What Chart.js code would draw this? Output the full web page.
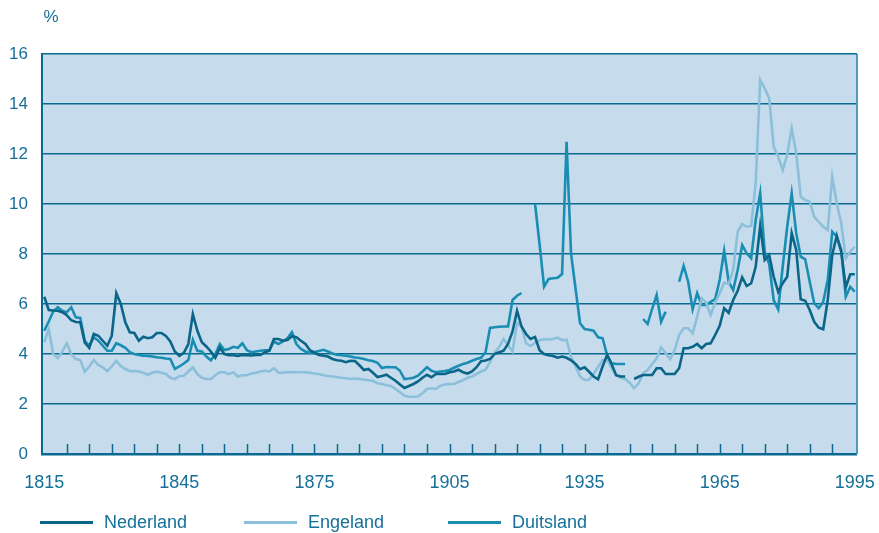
<!DOCTYPE html>
<html>
<head>
<meta charset="utf-8">
<script src="https://cdn.jsdelivr.net/npm/chart.js@4.4.1/dist/chart.umd.min.js"></script>
<style>
  html, body { margin: 0; padding: 0; background: #fff; }
  #wrap { position: relative; width: 879px; height: 533px; }
  #legend { position: absolute; left: 40px; top: 511px; display: flex; font: 18px "Liberation Sans", Arial, sans-serif; color: #16709a; }
  .item { width: 204px; display: flex; align-items: center; height: 22px; }
  .swatch { width: 53px; height: 3px; margin-right: 11px; }
</style>
</head>
<body>
<div id="wrap">
  <canvas id="rateChart" width="879" height="533"></canvas>
  <div id="legend"></div>
</div>
<script>
// jaren 1815 - 1995
const years = Array.from({ length: 181 }, (_, i) => 1815 + i)
const labelYears = [1815, 1845, 1875, 1905, 1935, 1965, 1995]

const nederland = [
  6.29, 5.76, 5.74, 5.73, 5.67, 5.55, 5.35, 5.28, 5.27, 4.45,
  4.24, 4.8, 4.73, 4.53, 4.33, 4.73, 6.43, 6.0, 5.27, 4.87,
  4.84, 4.53, 4.69, 4.63, 4.67, 4.84, 4.84, 4.72, 4.5, 4.1,
  3.93, 4.05, 4.4, 5.6, 4.93, 4.47, 4.3, 4.1, 3.85, 4.25,
  4.0, 3.95, 3.95, 3.92, 3.96, 3.95, 3.94, 3.96, 3.96, 4.07,
  4.13, 4.6, 4.6, 4.53, 4.56, 4.71, 4.67, 4.53, 4.4, 4.15,
  4.05, 3.96, 3.93, 3.9, 3.8, 3.75, 3.73, 3.67, 3.73, 3.72,
  3.55, 3.36, 3.4, 3.25, 3.08, 3.12, 3.17, 3.05, 2.93, 2.78,
  2.64, 2.72, 2.8, 2.9, 3.05, 3.17, 3.07, 3.2, 3.2, 3.2,
  3.27, 3.3, 3.37, 3.27, 3.22, 3.3, 3.47, 3.71, 3.74, 3.8,
  4.0, 4.07, 4.13, 4.4, 4.9, 5.73, 5.1, 4.8, 4.6, 4.68,
  4.15, 4.0, 3.95, 3.92, 3.85, 3.9, 3.85, 3.75, 3.6, 3.39,
  3.47, 3.29, 3.1, 2.99, 3.5, 3.96, 3.6, 3.15, 3.1, 3.1,
  null, 3.0, 3.09, 3.16, 3.16, 3.16, 3.43, 3.43, 3.2, 3.2,
  3.2, 3.43, 4.23, 4.23, 4.29, 4.4, 4.23, 4.4, 4.43, 4.76,
  5.13, 5.83, 5.65, 6.16, 6.53, 7.07, 6.72, 6.83, 7.49, 9.13,
  7.76, 7.96, 7.09, 6.49, 6.83, 7.09, 8.83, 8.16, 6.19, 6.13,
  5.76, 5.29, 5.05, 4.99, 6.16, 7.96, 8.73, 8.09, 6.67, 7.19,
  7.19
]

const engeland = [
  4.47, 5.0, 4.0, 3.84, 4.1, 4.43, 4.0, 3.8, 3.76, 3.29,
  3.5, 3.76, 3.56, 3.47, 3.31, 3.5, 3.73, 3.52, 3.4, 3.31,
  3.32, 3.3, 3.25, 3.17, 3.25, 3.3, 3.25, 3.2, 3.05, 3.0,
  3.12, 3.13, 3.3, 3.47, 3.2, 3.05, 3.0, 3.0, 3.15, 3.27,
  3.27, 3.2, 3.27, 3.1, 3.15, 3.15, 3.22, 3.25, 3.3, 3.33,
  3.3, 3.43, 3.25, 3.25, 3.28, 3.27, 3.27, 3.27, 3.27, 3.25,
  3.22, 3.2, 3.15, 3.12, 3.1, 3.08, 3.05, 3.03, 3.0, 3.02,
  3.0, 2.98, 2.95, 2.92, 2.83, 2.8, 2.75, 2.72, 2.6, 2.47,
  2.33, 2.29, 2.29, 2.3, 2.43, 2.6, 2.63, 2.6, 2.73, 2.78,
  2.8, 2.8, 2.88, 2.95, 3.05, 3.1, 3.2, 3.3, 3.37, 3.67,
  4.05, 4.27, 4.6, 4.35, 4.1, 5.25, 5.09, 4.43, 4.32, 4.45,
  4.55, 4.6, 4.58, 4.6, 4.65, 4.55, 4.57, 3.89, 3.5, 3.1,
  2.96, 2.97, 3.2, 3.49, 3.76, 3.76, 3.43, 3.15, 3.05, 3.0,
  2.85, 2.63, 2.83, 3.23, 3.36, 3.6, 3.83, 4.27, 4.03, 3.79,
  4.16, 4.76, 5.03, 5.03, 4.83, 5.49, 6.23, 6.05, 5.56, 6.05,
  6.43, 6.85, 6.8, 7.36, 8.89, 9.2, 9.09, 9.12, 10.83, 14.96,
  14.63, 14.23, 12.29, 11.89, 11.36, 11.96, 13.03, 12.03, 10.29, 10.16,
  10.09, 9.49, 9.29, 9.09, 8.96, 11.09, 10.03, 9.23, 7.83, 8.09,
  8.29
]

const duitsland = [
  4.93, 5.3, 5.7, 5.87, 5.73, 5.67, 5.87, 5.47, 5.44, 4.53,
  4.33, 4.67, 4.53, 4.33, 4.13, 4.13, 4.43, 4.35, 4.25, 4.07,
  4.0, 3.96, 3.93, 3.92, 3.9, 3.87, 3.85, 3.82, 3.8, 3.4,
  3.5, 3.62, 3.76, 4.57, 4.13, 4.1, 3.9, 3.75, 4.0, 4.4,
  4.16, 4.2, 4.29, 4.25, 4.43, 4.15, 4.07, 4.1, 4.13, 4.15,
  4.15, 4.5, 4.4, 4.5, 4.63, 4.87, 4.4, 4.2, 4.1, 4.04,
  4.08, 4.12, 4.17, 4.1, 4.02, 3.97, 3.95, 3.93, 3.9, 3.86,
  3.84, 3.8, 3.75, 3.72, 3.65, 3.44, 3.48, 3.47, 3.47, 3.33,
  3.0, 3.02, 3.05, 3.13, 3.3, 3.47, 3.33, 3.27, 3.3, 3.32,
  3.36, 3.45, 3.53, 3.6, 3.65, 3.73, 3.8, 3.85, 4.07, 5.04,
  5.07, 5.09, 5.1, 5.1, 6.16, 6.33, 6.44, null, null, 10.0,
  8.4, 6.69, 7.0, 7.03, 7.05, 7.2, 12.49, 8.0, 6.6, 5.23,
  5.0, 4.97, 4.93, 4.67, 4.63, 3.96, 3.63, 3.6, 3.6, 3.6,
  null, null, null, 5.4, 5.2, 5.8, 6.36, 5.29, 5.69, null,
  null, 6.89, 7.52, 6.89, 5.79, 6.43, 5.96, 5.96, 6.09, 6.19,
  6.96, 8.13, 6.89, 6.56, 7.36, 8.36, 8.03, 7.83, 9.36, 10.43,
  8.09, 7.6, 6.16, 5.79, 7.49, 9.09, 10.43, 8.83, 7.89, 7.79,
  6.89, 6.03, 5.83, 6.09, 6.96, 8.89, 8.69, 8.16, 6.29, 6.69,
  6.49
]

const textColor = "#16709a"
const gridColor = "#0b6a8f"
const fontFamily = '"Liberation Sans", Arial, sans-serif'

const series = [
  { label: "Nederland", data: nederland, color: "#0a6589" },
  { label: "Engeland", data: engeland, color: "#8cc0da" },
  { label: "Duitsland", data: duitsland, color: "#1a8db2" }
]

const toPoints = arr => years.map((y, i) => ({ x: y, y: arr[i] }))

const plotDecor = {
  id: "plotDecor",
  beforeDraw(chart) {
    const { ctx, chartArea: a } = chart
    ctx.save()
    ctx.fillStyle = "#c6dcec"
    ctx.fillRect(a.left, a.top, a.right - a.left, a.bottom - a.top)
    ctx.restore()
  },
  beforeDatasetsDraw(chart) {
    const { ctx, chartArea: a, scales } = chart
    ctx.save()
    // kleine streepjes om de 5 jaar
    ctx.strokeStyle = gridColor
    ctx.lineWidth = 1.5
    for (let y = 1820; y < 1995; y += 5) {
      const x = Math.round(scales.x.getPixelForValue(y)) + 0.5
      ctx.beginPath()
      ctx.moveTo(x, a.bottom)
      ctx.lineTo(x, a.bottom - 10)
      ctx.stroke()
    }
    ctx.strokeStyle = "#4f97c0"
    ctx.lineWidth = 2
    ctx.beginPath()
    ctx.moveTo(a.right, a.top)
    ctx.lineTo(a.right, a.bottom)
    ctx.stroke()
    ctx.restore()
  },
  afterDraw(chart) {
    const { ctx } = chart
    ctx.save()
    ctx.fillStyle = textColor
    ctx.font = "17px " + fontFamily
    ctx.textAlign = "center"
    ctx.textBaseline = "middle"
    ctx.fillText("%", 51, 17)
    ctx.restore()
  }
}

const chart = new Chart(document.getElementById("rateChart"), {
  type: "line",
  data: {
    datasets: series.map(s => ({
      label: s.label,
      data: toPoints(s.data),
      borderColor: s.color,
      backgroundColor: s.color,
      borderWidth: 2.6,
      pointRadius: 0,
      tension: 0,
      spanGaps: false
    }))
  },
  options: {
    responsive: false,
    animation: false,
    layout: { padding: { top: 54, right: 22, left: 0, bottom: 0 } },
    plugins: {
      legend: { display: false },
      tooltip: { enabled: false }
    },
    scales: {
      x: {
        type: "linear",
        min: 1814.5,
        max: 1995.5,
        grid: { display: false },
        border: { display: false },
        afterBuildTicks: s => { s.ticks = labelYears.map(v => ({ value: v })) },
        afterFit: s => {
          s.height = 79
          s.paddingLeft = 0
          s.paddingRight = 0
        },
        ticks: {
          color: textColor,
          font: { size: 18, family: fontFamily },
          padding: 10,
          autoSkip: false,
          maxRotation: 0,
          callback: v => String(v)
        }
      },
      y: {
        min: 0,
        max: 16,
        afterFit: s => { s.width = 42 },
        grid: {
          color: gridColor,
          lineWidth: c => (c.tick && c.tick.value === 0 ? 2.4 : 1.6),
          drawTicks: false
        },
        border: { color: gridColor, width: 2 },
        ticks: {
          stepSize: 2,
          color: textColor,
          font: { size: 17, family: fontFamily },
          padding: 14
        }
      }
    }
  },
  plugins: [plotDecor]
})

const legend = document.getElementById("legend")
series.forEach(s => {
  const item = document.createElement("div")
  item.className = "item"
  item.innerHTML = `<span class="swatch" style="background:${s.color}"></span><span>${s.label}</span>`
  legend.appendChild(item)
})

console.log("Chart rendered", chart.chartArea)
</script>
</body>
</html>
